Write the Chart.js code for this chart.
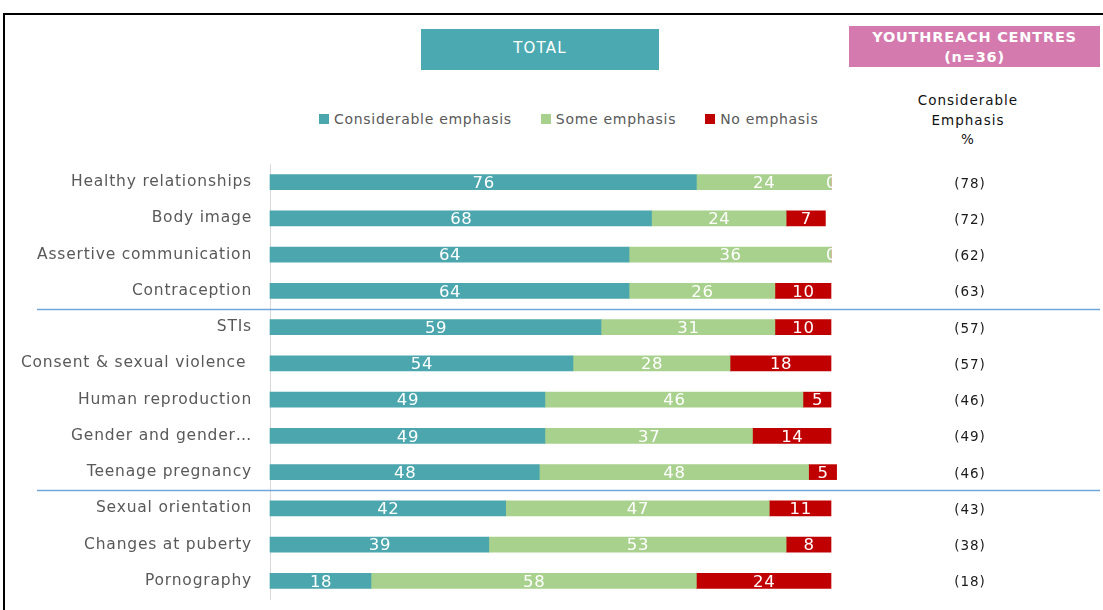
<!DOCTYPE html>
<html>
<head>
<meta charset="utf-8">
<script src="https://cdn.jsdelivr.net/npm/chart.js@4/dist/chart.umd.min.js"></script>
<style>
  html, body { margin: 0; padding: 0; background: #fff; }
  body { width: 1103px; height: 610px; position: relative; overflow: hidden; font-family: "DejaVu Sans", sans-serif; }
  #frame { position: absolute; left: 3px; top: 13px; width: 1110px; height: 610px; border-left: 2px solid #000; border-top: 2px solid #000; }
  .box { position: absolute; color: #fff; text-align: center; font-size: 14px; }
  #totalBox { left: 421px; top: 29px; width: 238px; height: 41px; line-height: 39px; background: #4BAAB1; font-size: 15px; letter-spacing: 1.2px; }
  #yrBox { left: 849px; top: 26px; width: 251px; height: 41px; background: #D47AAE; font-weight: bold; font-size: 14.5px; line-height: 20px; padding-top: 1px; letter-spacing: 0.8px; box-sizing: border-box; }
  #colHead { position: absolute; left: 900px; top: 91px; width: 136px; text-align: center; font-size: 13.5px; line-height: 19.5px; color: #111; letter-spacing: 1px; }
  #legend { position: absolute; left: 319px; top: 111px; display: flex; font-size: 14px; color: #595959; letter-spacing: 0.7px; }
  #legend span.item { display: flex; align-items: center; margin-right: 29px; }
  #legend i { display: inline-block; width: 10px; height: 10px; margin-right: 5px; }
  #wrap { position: absolute; left: 0; top: 0; width: 1103px; height: 610px; }
  canvas { display: block; }
</style>
</head>
<body>
<div id="frame"></div>
<div id="totalBox" class="box">TOTAL</div>
<div id="yrBox" class="box">YOUTHREACH CENTRES<br>(n=36)</div>
<div id="colHead">Considerable<br>Emphasis<br>%</div>
<div id="legend"></div>
<div id="wrap"><canvas id="chart" width="1103" height="610"></canvas></div>
<script>
// Topics (top to bottom)
var topics = ['Healthy relationships', 'Body image', 'Assertive communication', 'Contraception',
  'STIs', 'Consent & sexual violence ', 'Human reproduction', 'Gender and gender…', 'Teenage pregnancy',
  'Sexual orientation', 'Changes at puberty', 'Pornography'];
var considerable = [76, 68, 64, 64, 59, 54, 49, 49, 48, 42, 39, 18];
var some = [24, 24, 36, 26, 31, 28, 46, 37, 48, 47, 53, 58];
var none = [0, 7, 0, 10, 10, 18, 5, 14, 5, 11, 8, 24];
// Youthreach centres, considerable emphasis %
var youthreach = [78, 72, 62, 63, 57, 57, 46, 49, 46, 43, 38, 18];
// group lines drawn after these rows
var groupBreaks = [3, 8];

var seriesNames = ['Considerable emphasis', 'Some emphasis', 'No emphasis'];
var seriesColors = ['#4BA6AE', '#A9D18E', '#C00000'];

// html legend
var lg = document.getElementById('legend');
seriesNames.forEach(function(n, i) {
  lg.innerHTML += '<span class="item"><i style="background:' + seriesColors[i] + '"></i>' + n + '</span>';
});

var overlay = {
  id: 'overlay',
  beforeDraw: function(chart) {
    chart.ctx.letterSpacing = '0.8px';
  },
  afterDatasetsDraw: function(chart) {
    var ctx = chart.ctx, a = chart.chartArea, xs = chart.scales.x;
    ctx.save();
    ctx.beginPath();
    ctx.rect(a.left, a.top, xs.getPixelForValue(100) + 2 - a.left, a.bottom - a.top);
    ctx.clip();
    ctx.fillStyle = '#fff';
    ctx.font = '16.5px "DejaVu Sans", sans-serif';
    ctx.letterSpacing = '0.6px';
    ctx.textAlign = 'center';
    ctx.textBaseline = 'middle';
    chart.data.datasets.forEach(function(ds, di) {
      chart.getDatasetMeta(di).data.forEach(function(el, i) {
        ctx.fillText(String(ds.data[i]), (el.x + el.base) / 2 + 0.5, el.y + 1.5);
      });
    });
    ctx.restore();
  },
  afterDraw: function(chart) {
    var ctx = chart.ctx, ys = chart.scales.y;
    ctx.save();
    // group separators
    ctx.strokeStyle = '#6FA8DC';
    ctx.lineWidth = 1.5;
    groupBreaks.forEach(function(i) {
      var y = Math.round((ys.getPixelForValue(i) + ys.getPixelForValue(i + 1)) / 2) + 0.5;
      ctx.beginPath();
      ctx.moveTo(37, y);
      ctx.lineTo(1100, y);
      ctx.stroke();
    });
    // youthreach column
    ctx.fillStyle = '#1a1a1a';
    ctx.font = '13.5px "DejaVu Sans", sans-serif';
    ctx.letterSpacing = '1px';
    ctx.textAlign = 'center';
    ctx.textBaseline = 'middle';
    youthreach.forEach(function(v, i) {
      ctx.fillText('(' + v + ')', 970, ys.getPixelForValue(i) + 2);
    });
    ctx.restore();
    ctx.letterSpacing = '0px';
  }
};

new Chart(document.getElementById('chart'), {
  type: 'bar',
  data: {
    labels: topics,
    datasets: seriesNames.map(function(n, i) {
      return {
        label: n,
        data: [considerable, some, none][i],
        backgroundColor: seriesColors[i],
        barThickness: 15,
        clip: false
      };
    })
  },
  options: {
    indexAxis: 'y',
    responsive: false,
    animation: false,
    layout: { padding: { top: 164, bottom: 11, right: 272, left: 0 } },
    plugins: { legend: { display: false }, tooltip: { enabled: false } },
    scales: {
      x: { stacked: true, min: 0, max: 100, display: false },
      y: {
        stacked: true,
        afterFit: function(s) { s.width = 270; s.paddingTop = 0; s.paddingBottom = 0; },
        grid: { display: false, drawTicks: false },
        border: { display: true, color: '#D9D9D9', width: 1 },
        ticks: { color: '#595959', padding: 18, font: { family: '"DejaVu Sans", sans-serif', size: 15.5 } }
      }
    }
  },
  plugins: [overlay]
});
</script>
</body>
</html>
